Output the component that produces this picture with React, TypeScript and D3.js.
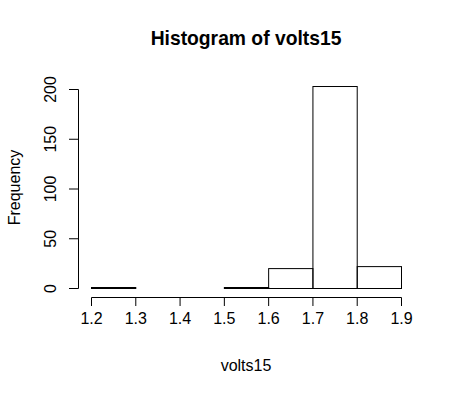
import * as d3 from "d3";

// histogram bins of volts15
const binEdges = [1.2, 1.3, 1.4, 1.5, 1.6, 1.7, 1.8, 1.9];
const binCounts = [1, 0, 0, 1, 20, 203, 22];
const xTicks = [1.2, 1.3, 1.4, 1.5, 1.6, 1.7, 1.8, 1.9];
const yTicks = [0, 50, 100, 150, 200];

export default function App() {
  const width = 454;
  const height = 395;
  const font = "'Liberation Sans', Arial, sans-serif";

  const x = d3.scaleLinear().domain([1.2, 1.9]).range([91.5, 401.5]);
  const y = d3.scaleLinear().domain([0, 200]).range([288.5, 89.5]);

  const axisY = 78.5; // y axis line x position
  const axisX = 297.5; // x axis line y position

  const bins = binCounts.map((c, i) => ({ x0: binEdges[i], x1: binEdges[i + 1], count: c }));

  return (
    <svg
      width={width}
      height={height}
      style={{ position: "absolute", left: 0, top: 0, background: "#fff" }}
      fontFamily={font}
    >
      <rect width={width} height={height} fill="#fff" />

      {/* title */}
      <text x={246} y={45} textAnchor="middle" fontSize={19.3} fontWeight="bold">
        Histogram of volts15
      </text>

      {/* bars */}
      {bins.map((b, i) => (
        <rect
          key={i}
          x={x(b.x0)}
          y={y(b.count)}
          width={x(b.x1) - x(b.x0)}
          height={y(0) - y(b.count)}
          fill="none"
          stroke="#000"
          strokeWidth={1}
        />
      ))}

      {/* x axis */}
      <line x1={x(1.2)} x2={x(1.9)} y1={axisX} y2={axisX} stroke="#000" />
      {xTicks.map((t) => (
        <g key={t}>
          <line x1={x(t)} x2={x(t)} y1={axisX} y2={306} stroke="#000" />
          <text x={x(t)} y={323.5} textAnchor="middle" fontSize={16}>
            {d3.format(".1f")(t)}
          </text>
        </g>
      ))}

      {/* y axis */}
      <line x1={axisY} x2={axisY} y1={y(0)} y2={y(200)} stroke="#000" />
      {yTicks.map((t) => (
        <g key={t}>
          <line x1={69} x2={axisY} y1={y(t)} y2={y(t)} stroke="#000" />
          <text
            transform={`translate(55.5,${y(t)}) rotate(-90)`}
            textAnchor="middle"
            fontSize={16}
          >
            {t}
          </text>
        </g>
      ))}

      {/* axis labels */}
      <text x={246} y={371} textAnchor="middle" fontSize={16}>
        volts15
      </text>
      <text
        transform="translate(20,187.5) rotate(-90)"
        textAnchor="middle"
        fontSize={16}
      >
        Frequency
      </text>
    </svg>
  );
}
